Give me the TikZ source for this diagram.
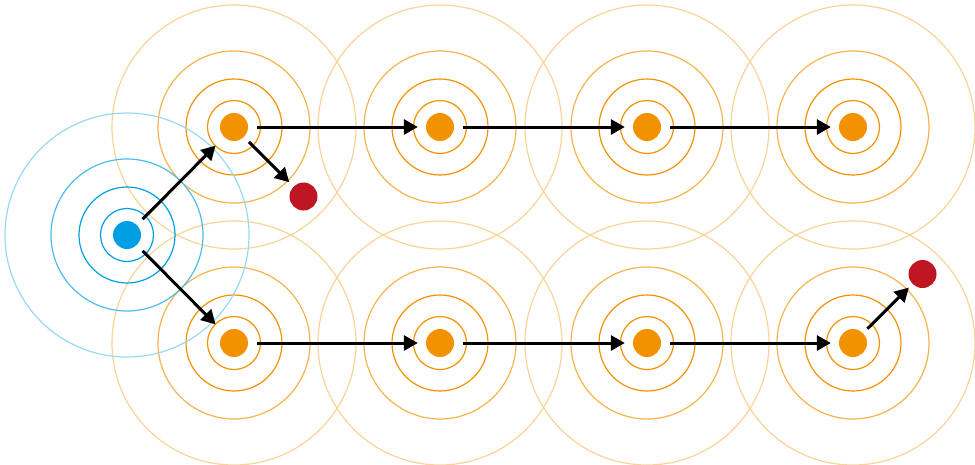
\documentclass[tikz,border=0pt]{standalone}
\usetikzlibrary{arrows.meta}
\definecolor{cblue}{HTML}{009FE3}
\definecolor{corange}{HTML}{F39200}
\definecolor{cred}{HTML}{BE1622}
\begin{document}
\begin{tikzpicture}[x=1pt,y=-1pt,
  ringw/.style={line width=1.2pt},
  dot/.style={circle, inner sep=0pt, minimum size=28pt, draw=none},
  arr/.style={line width=3pt, -{Triangle[length=14pt,width=15pt]}}]
\useasboundingbox (0,0) rectangle (975,464);
% orange wave rings
\foreach \cx/\cy in {234/127,440/127,647/127,853/127,234/343,440/343,647/343,853/343}{
  \draw[ringw, corange!40] (\cx,\cy) circle[radius=122];
  \draw[ringw, corange!70] (\cx,\cy) circle[radius=76];
  \draw[ringw, corange] (\cx,\cy) circle[radius=48];
  \draw[ringw, corange] (\cx,\cy) circle[radius=26.5];
}
% blue wave rings
\draw[ringw, cblue!40] (127,235) circle[radius=122];
\draw[ringw, cblue!70] (127,235) circle[radius=76];
\draw[ringw, cblue] (127,235) circle[radius=48];
\draw[ringw, cblue] (127,235) circle[radius=26.5];
% dots
\node[dot, fill=cblue] (s) at (127,235) {};
\foreach \cx/\cy/\nm in {234/127/a1,440/127/a2,647/127/a3,853/127/a4,234/343/b1,440/343/b2,647/343/b3,853/343/b4}{
  \node[dot, fill=corange] (\nm) at (\cx,\cy) {};
}
\node[dot, fill=cred] (r1) at (303.5,196.5) {};
\node[dot, fill=cred] (r2) at (922.5,274) {};
% arrows
\draw[arr, shorten <=8pt, shorten >=12pt] (s) -- (a1);
\draw[arr, shorten <=8pt, shorten >=12pt] (s) -- (b1);
\draw[arr, shorten <=9pt, shorten >=8pt] (a1) -- (a2);
\draw[arr, shorten <=9pt, shorten >=8pt] (a2) -- (a3);
\draw[arr, shorten <=9pt, shorten >=8pt] (a3) -- (a4);
\draw[arr, shorten <=9pt, shorten >=8pt] (b1) -- (b2);
\draw[arr, shorten <=9pt, shorten >=8pt] (b2) -- (b3);
\draw[arr, shorten <=9pt, shorten >=8pt] (b3) -- (b4);
\draw[arr, shorten <=7pt, shorten >=6pt] (a1) -- (r1);
\draw[arr, shorten <=6pt, shorten >=5pt] (b4) -- (r2);
\end{tikzpicture}
\end{document}
